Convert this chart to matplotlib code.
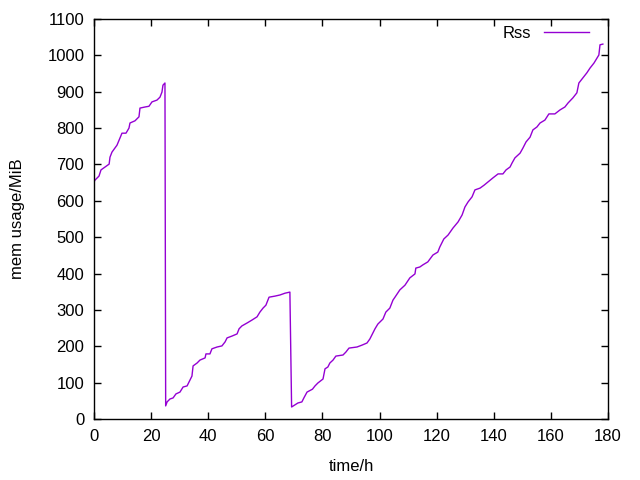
import matplotlib
matplotlib.use('Agg')
import matplotlib.pyplot as plt

plt.rcParams['font.family'] = ['Liberation Sans', 'DejaVu Sans']

# first run (until restart at ~25h)
t1 = [0, 0.35, 1.75, 2.45, 3.85, 5.3, 5.6, 6.3, 8.05, 9.1, 9.8, 11.2, 12.25,
      12.6, 14.35, 15.75, 16.1, 17.85, 19.25, 20.3, 22.05, 23.1, 23.8, 24.15, 24.85]
m1 = [652, 657, 668, 685, 693, 701, 720, 734, 753, 773, 786, 786, 800,
      814, 820, 831, 855, 858, 860, 872, 877, 885, 899, 918, 924]

# second run (until restart at ~69h)
t2 = [25.1, 25.6, 26.6, 27.7, 28.7, 30.1, 31.2, 32.6, 33.6, 34.3, 34.7, 36.1,
      37.1, 38.9, 39.2, 40.6, 41.3, 43.1, 44.8, 45.9, 46.6, 48.3, 50.1, 50.8,
      51.8, 53.6, 55.3, 57.1, 58.1, 59.2, 60.2, 61.3, 63.4, 65.1, 66.9, 68.6]
m2 = [36, 47, 55, 58, 69, 74, 88, 91, 107, 118, 146, 154,
      162, 168, 179, 179, 193, 198, 201, 212, 223, 228, 234, 248,
      256, 264, 272, 281, 294, 305, 313, 335, 338, 341, 346, 349]

# third run
t3 = [69.2, 70.4, 71.4, 72.8, 73.5, 74.6, 76.5, 77.4, 78.4, 80.2, 80.9, 81.9,
      82.6, 83.7, 84.7, 87.2, 88.2, 89.3, 92.1, 93.8, 95.6, 96.6, 97.3, 98.4,
      99.4, 101.2, 102.2, 103.6, 104.7, 105.4, 107.1, 108.9, 110.6, 112.4, 112.7,
      114.1, 115.2, 116.9, 118.7, 120.4, 121.1, 122.5, 124.0, 125.7, 127.5,
      128.9, 129.9, 131.0, 132.4, 133.4, 135.2, 136.6, 138.0, 139.7, 141.5,
      143.2, 144.3, 145.7, 146.4, 147.4, 149.2, 150.2, 151.3, 152.7, 153.7,
      155.1, 156.2, 157.9, 159.3, 161.4, 163.2, 164.9, 166.0, 167.7, 169.1,
      169.8, 171.2, 172.6, 173.7, 175.1, 176.2, 176.8, 177.2, 178.2]
m3 = [33, 39, 44, 47, 58, 74, 82, 91, 99, 110, 138, 143,
      154, 162, 173, 176, 184, 195, 198, 203, 209, 220, 231, 248,
      261, 275, 294, 305, 327, 335, 355, 368, 388, 399, 415,
      418, 424, 432, 451, 459, 473, 495, 506, 525, 542,
      561, 583, 597, 611, 630, 635, 643, 652, 663, 674,
      674, 685, 693, 704, 718, 731, 745, 762, 775, 795,
      803, 814, 822, 839, 839, 850, 858, 869, 883, 897,
      924, 938, 952, 965, 979, 993, 1001, 1029, 1031]

times = t1 + t2 + t3
rss = m1 + m2 + m3

fig = plt.figure(figsize=(6.4, 4.8), dpi=100)
ax = fig.add_axes([94 / 640, 61 / 480, 514 / 640, 400 / 480])

ax.plot(times, rss, color='#9400d3', linewidth=1, label='Rss')

ax.set_xlim(0, 180)
ax.set_ylim(0, 1100)
ax.set_xticks(range(0, 181, 20))
ax.set_yticks(range(0, 1101, 100))
ax.tick_params(direction='in', top=True, right=True, length=5, width=1,
               labelsize=12, pad=7, colors='black')
for s in ax.spines.values():
    s.set_linewidth(1)

ax.set_xlabel('time/h', fontsize=12, labelpad=11)
ax.set_ylabel('mem usage/MiB', fontsize=12, labelpad=16)

ax.legend(loc='upper right', frameon=False, markerfirst=False, fontsize=12,
          handlelength=2.7, handletextpad=0.8, borderaxespad=0.3,
          bbox_to_anchor=(0.986, 1.012))

fig.savefig('out.png', dpi=100)
